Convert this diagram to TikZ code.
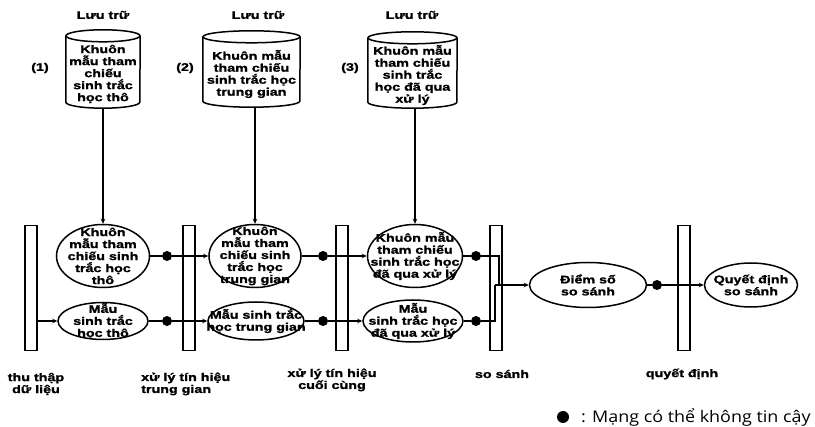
\documentclass[tikz,border=0pt]{standalone}
\usepackage{fontspec}
\setmainfont{Liberation Sans}[FakeStretch=1.3, BoldFeatures={FakeBold=1.5}]
\newfontfamily\legfont{Open Sans}[FakeStretch=1.12]
\usetikzlibrary{arrows.meta,shapes.geometric}
\newcommand{\drawcyl}[2]{%
  \draw[line width=1.5pt] ([yshift=-6pt]#1.north west) -- ([yshift=6pt]#1.south west)
    arc[start angle=180,end angle=360,x radius=#2pt,y radius=6pt]
    -- ([yshift=-6pt]#1.north east);
  \draw[line width=1.5pt] ([yshift=-6pt]#1.north) ellipse [x radius=#2pt, y radius=6pt];}
\begin{document}
\begin{tikzpicture}[x=1pt,y=-1pt,
  txt/.style={font=\bfseries\fontsize{11}{12}\selectfont, align=center, inner sep=0pt},
  ell/.style={ellipse, draw, line width=1.5pt, inner sep=0pt},
  bar/.style={rectangle, draw, line width=1.5pt, minimum width=12pt, minimum height=125pt, inner sep=0pt, fill=white},
  dot/.style={circle, fill=black, minimum size=10pt, inner sep=0pt},
  cylbox/.style={rectangle, inner sep=0pt},
  arr/.style={line width=1.2pt, -{Stealth[length=5pt,width=4.5pt]}},
  ln/.style={line width=1.2pt}]
\useasboundingbox[fill=white] (0,0) rectangle (815,427);
% bars
\node[bar] (b1) at (31,288) {};
\node[bar] (b2) at (189,288) {};
\node[bar] (b3) at (342,288) {};
\node[bar] (b4) at (496,288) {};
\node[bar] (b5) at (684,288) {};
% ellipses
\node[ell, minimum width=93pt, minimum height=63pt] (e1t) at (103,256) {};
\node[txt] (t1t) at (e1t) {Khuôn\\mẫu tham\\chiếu sinh\\trắc học\\thô};
\node[ell, minimum width=90pt, minimum height=37pt] (e1b) at (103,321) {};
\node[txt] (t1b) at (e1b) {Mẫu\\sinh trắc\\học thô};
\node[ell, minimum width=92pt, minimum height=63pt] (e2t) at (255,256) {};
\node[txt] (t2t) at (e2t) {Khuôn\\mẫu tham\\chiếu sinh\\trắc học\\trung gian};
\node[ell, minimum width=96pt, minimum height=38pt] (e2b) at (256,321) {};
\node[txt] (t2b) at (e2b) {Mẫu sinh trắc\\học trung gian};
\node[ell, minimum width=95pt, minimum height=63pt] (e3t) at (415,256) {};
\node[txt] (t3t) at (e3t) {Khuôn mẫu\\tham chiếu\\sinh trắc học\\đã qua xử lý};
\node[ell, minimum width=100pt, minimum height=42pt] (e3b) at (413,321) {};
\node[txt] (t3b) at (e3b) {Mẫu\\sinh trắc học\\đã qua xử lý};
\node[ell, minimum width=117pt, minimum height=45pt] (e4) at (588,285) {};
\node[txt] (t4) at (e4) {Điểm số\\so sánh};
\node[ell, minimum width=93pt, minimum height=44pt] (e5) at (751,285) {};
\node[txt] (t5) at (e5) {Quyết định\\so sánh};
% dots
\node[dot] (d1t) at (167,256) {};
\node[dot] (d1b) at (167,321) {};
\node[dot] (d2t) at (323,256) {};
\node[dot] (d2b) at (323,321) {};
\node[dot] (d3t) at (476,256) {};
\node[dot] (d3b) at (476,321) {};
\node[dot] (d4) at (657,285) {};
% cylinders
\node[cylbox, minimum width=74pt, minimum height=78pt] (c1) at (103,69) {};
\drawcyl{c1}{37}
\node[txt] (tc1) at (103,74) {Khuôn\\mẫu tham\\chiếu\\sinh trắc\\học thô};
\node[cylbox, minimum width=97pt, minimum height=76pt] (c2) at (251.5,69) {};
\drawcyl{c2}{48.5}
\node[txt] (tc2) at (251.5,74) {Khuôn mẫu\\tham chiếu\\sinh trắc học\\trung gian};
\node[cylbox, minimum width=89pt, minimum height=76pt] (c3) at (412.5,70) {};
\drawcyl{c3}{44.5}
\node[txt] (tc3) at (412.5,75) {Khuôn mẫu\\tham chiếu\\sinh trắc\\học đã qua\\xử lý};
% labels
\node[txt] (l1) at (103,15) {Lưu trữ};
\node[txt] (l2) at (258,15) {Lưu trữ};
\node[txt] (l3) at (412,15) {Lưu trữ};
\node[txt] (n1) at (40,68) {(1)};
\node[txt] (n2) at (185,68) {(2)};
\node[txt] (n3) at (350,68) {(3)};
\node[txt] (s1) at (36,384) {thu thập\\dữ liệu};
\node[txt, align=left, anchor=west] (s2) at (141,384) {xử lý tín hiệu\\trung gian};
\node[txt] (s3) at (332,380) {xử lý tín hiệu\\cuối cùng};
\node[txt] (s4) at (502,374) {so sánh};
\node[txt] (s5) at (682,374) {quyết định};
% connectors
\draw[arr] (c1.south) -- (e1t.north);
\draw[arr] (c2.south -| e2t.north) -- (e2t.north);
\draw[arr] (c3.south -| e3t.north) -- (e3t.north);
\draw[arr] (b1.east |- e1b) -- (e1b);
\draw[arr] (e1t) -- (d1t) -- (e2t);
\draw[arr] (e1b) -- (d1b) -- (e2b);
\draw[arr] (e2t) -- (d2t) -- (e3t);
\draw[arr] (e2b) -- (d2b) -- (e3b);
\coordinate (m4a) at (499,285);
\coordinate (m4b) at (495,285);
\draw[ln] (e3t) -- (d3t) -- (d3t -| m4a) -- (m4a);
\draw[ln] (e3b) -- (d3b) -- (d3b -| m4b) -- (m4b);
\draw[arr] (m4b) -- (e4);
\draw[arr] (e4) -- (d4) -- (e5);
% legend
\node[dot, minimum size=12pt] (ld) at (563,417) {};
\node[font=\legfont\fontsize{16}{16}\selectfont, anchor=west, inner sep=0pt] (lt) at (581,417) {: Mạng có thể không tin cậy};
\end{tikzpicture}
\end{document}
